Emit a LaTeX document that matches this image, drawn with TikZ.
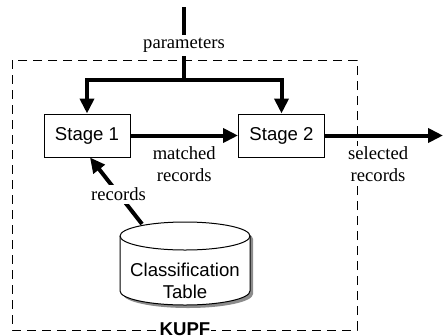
\documentclass[tikz,border=0pt]{standalone}
\usepackage{fontspec}
\setmainfont{Liberation Serif}
\setsansfont{Liberation Sans}
\usetikzlibrary{arrows.meta,positioning,calc}
\newcommand{\lblsize}{\fontsize{18.6}{22}\selectfont}

\begin{document}
\begin{tikzpicture}[x=1pt,y=-1pt,font=\lblsize,
    stagebox/.style={draw, line width=1pt, minimum width=86pt, minimum height=43pt, font=\sffamily\lblsize},
    flow/.style={line width=4pt, -{Triangle[length=15pt,width=14pt]}},
    lbl/.style={fill=white, inner sep=1pt, align=center}]
  \useasboundingbox (0,0) rectangle (443,335);

  % KUPF boundary (dashed)
  \draw[line width=1pt, dash pattern=on 9pt off 6pt] (12,60) rectangle (357,330);
  \node[fill=white, inner sep=1pt, font=\sffamily\bfseries\lblsize] (kupf) at (185,329) {KUPF};

  % Stage 1 and Stage 2
  \node[stagebox] (stage1) at (87,135.5) {Stage 1};
  \node[stagebox] (stage2) at (281.5,135.5) {Stage 2};

  % Classification table (cylinder with shadow)
  \fill[black!45] (123,239) -- (123,294) arc (180:360:65pt and 14pt) -- (253,239) arc (0:180:65pt and 14pt) -- cycle;
  \draw[line width=1pt, fill=white] (120,236) -- (120,291) arc (180:360:65pt and 14pt) -- (250,236) arc (0:180:65pt and 14pt) -- cycle;
  \draw[line width=1pt] (120,236) arc (180:360:65pt and 14pt);
  \node[align=center, font=\sffamily\lblsize] (table) at (185,281) {Classification\\Table};
  \coordinate (tbltop) at (142,224);

  % parameters into both stages
  \coordinate (src) at (184,7);
  \coordinate (split) at (184,80);
  \draw[line width=4pt] (src) -- node[lbl, pos=0.53, inner sep=3pt] (plbl) {parameters} (split);
  \draw[flow] (split) -| (stage1.north);
  \draw[flow] (split) -| (stage2.north);

  % records flow
  \draw[flow] (stage1) -- node[lbl, below=8pt] (mlbl) {matched\\records} (stage2);
  \coordinate (out) at (443,135.5);
  \draw[flow] (stage2) -- node[lbl, pos=0.45, below=8pt] (slbl) {selected\\records} (out);
  \draw[flow] (tbltop) -- node[lbl, pos=0.45, inner sep=3pt] (rlbl) {records} ($(stage1.south)+(3,0)$);
\end{tikzpicture}
\end{document}
